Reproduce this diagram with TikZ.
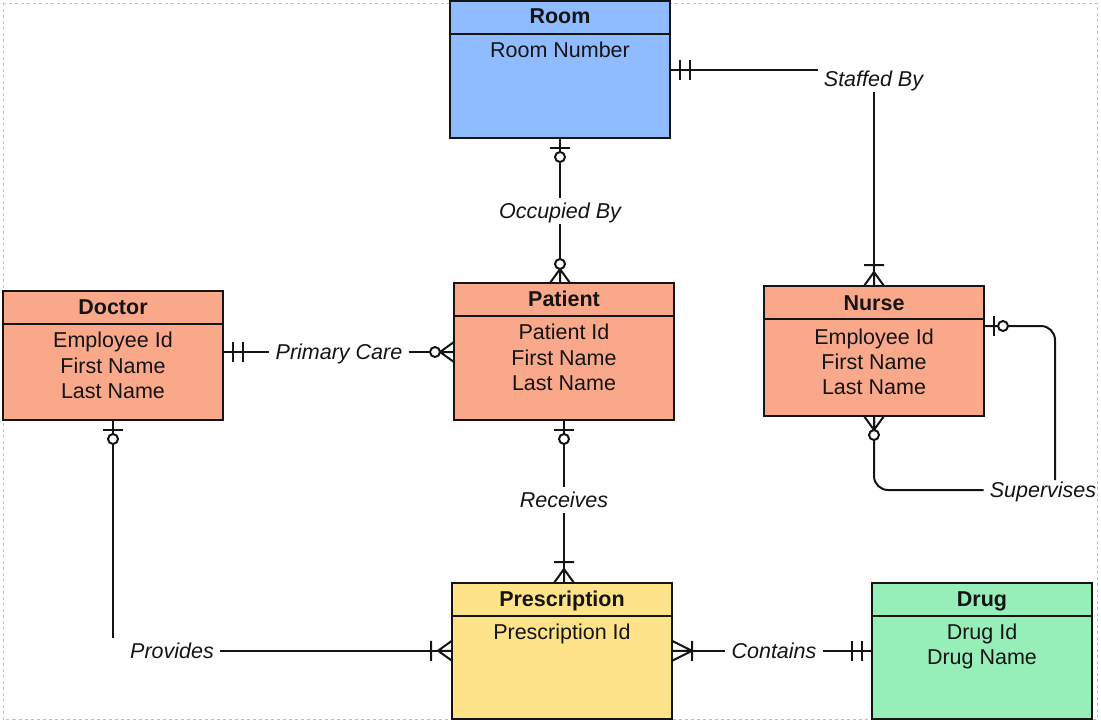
\documentclass[tikz,border=0pt]{standalone}
\usepackage{fontspec}
\setmainfont{Liberation Sans}
\definecolor{inkc}{RGB}{20,20,20}
\definecolor{roomblue}{RGB}{143,187,255}
\definecolor{salmon}{RGB}{250,168,138}
\definecolor{rxyellow}{RGB}{255,227,136}
\definecolor{drugreen}{RGB}{150,239,185}
\definecolor{frame}{RGB}{172,196,230}
\begin{document}
\begin{tikzpicture}[x=1pt,y=1pt,
  entity/.style={draw=inkc, line width=2pt, rectangle, inner sep=0pt, outer sep=0pt, minimum width=220pt},
  txt/.style={text=inkc, font=\fontsize{21.5pt}{25.5pt}\selectfont, inner sep=0pt, text height=15.4pt, text depth=0pt},
  title/.style={txt, font=\fontsize{21.5pt}{25.5pt}\selectfont\bfseries},
  rel/.style={txt, font=\fontsize{21.5pt}{25.5pt}\selectfont\itshape, inner xsep=6pt, inner ysep=5pt},
  conn/.style={draw=inkc, line width=2pt, line join=round},
  divider/.style={draw=inkc, line width=2pt},
  pics/mandone/.style={code={\draw[conn] (10,-10)--(10,10) (20,-10)--(20,10);}},
  pics/zeroone/.style={code={\draw[conn] (10,-10)--(10,10); \draw[conn,fill=white] (19,0) circle (5);}},
  pics/zeromany/.style={code={\draw[conn] (0,-10)--(14,0)--(0,10) (0,0)--(14,0); \draw[conn,fill=white] (19,0) circle (5);}},
  pics/onemany/.style={code={\draw[conn] (0,-10)--(14,0)--(0,10) (0,0)--(14,0) (21,-10)--(21,10);}},
  pics/onemanylong/.style={code={\draw[conn] (0,-10)--(20,0)--(0,10) (0,0)--(20,0) (20,-10)--(20,10);}},
]
\useasboundingbox (0,0) rectangle (1101,-721);
% page frame
\draw[frame, line width=1pt, dash pattern=on 3pt off 3pt] (3,-3) rectangle (1097,-719.5);

% entities
\node[entity, fill=roomblue, minimum height=137pt] (room) at (560,-69.5) {};
\node[entity, fill=salmon, minimum height=129pt] (doctor) at (113,-355.5) {};
\node[entity, fill=salmon, minimum height=137pt] (patient) at (564,-351.5) {};
\node[entity, fill=salmon, minimum height=130pt] (nurse) at (874,-351) {};
\node[entity, fill=rxyellow, minimum height=135.5pt] (prescription) at (562,-650.75) {};
\node[entity, fill=drugreen, minimum height=135.5pt] (drug) at (982,-650.75) {};

% header dividers
\foreach \e in {room,doctor,patient,nurse,prescription,drug}
  \draw[divider] ([yshift=-32.5pt]\e.north west) -- ([yshift=-32.5pt]\e.north east);

% titles
\node[title] (room-t) at ([yshift=-15pt]room.north) {Room};
\node[title] (doctor-t) at ([yshift=-16pt]doctor.north) {Doctor};
\node[title] (patient-t) at ([yshift=-16pt]patient.north) {Patient};
\node[title] (nurse-t) at ([yshift=-17pt]nurse.north) {Nurse};
\node[title] (prescription-t) at ([yshift=-16pt]prescription.north) {Prescription};
\node[title] (drug-t) at ([yshift=-16pt]drug.north) {Drug};

% attributes
\node[txt] (room-a1) at ([yshift=-49pt]room.north) {Room Number};
\node[txt] (doctor-a1) at ([yshift=-49pt]doctor.north) {Employee Id};
\node[txt] (doctor-a2) at ([yshift=-74.5pt]doctor.north) {First Name};
\node[txt] (doctor-a3) at ([yshift=-100pt]doctor.north) {Last Name};
\node[txt] (patient-a1) at ([yshift=-49pt]patient.north) {Patient Id};
\node[txt] (patient-a2) at ([yshift=-75pt]patient.north) {First Name};
\node[txt] (patient-a3) at ([yshift=-100pt]patient.north) {Last Name};
\node[txt] (nurse-a1) at ([yshift=-50.5pt]nurse.north) {Employee Id};
\node[txt] (nurse-a2) at ([yshift=-75.5pt]nurse.north) {First Name};
\node[txt] (nurse-a3) at ([yshift=-100.5pt]nurse.north) {Last Name};
\node[txt] (prescription-a1) at ([yshift=-49pt]prescription.north) {Prescription Id};
\node[txt] (drug-a1) at ([yshift=-49pt]drug.north) {Drug Id};
\node[txt] (drug-a2) at ([yshift=-74pt]drug.north) {Drug Name};

% relationship labels
\node[rel] (occupied) at (560,-211) {Occupied By};
\node[rel] (staffed) at (873.5,-79) {Staffed By};
\node[rel] (primary) at (339,-352) {Primary Care};
\node[rel] (supervises) at (1043,-490) {Supervises};
\node[rel] (receives) at (564,-500) {Receives};
\node[rel] (provides) at (172,-650.75) {Provides};
\node[rel] (contains) at (774,-650.75) {Contains};

% connectors
\draw[conn] (room.south) -- (occupied.north);
\draw[conn] (occupied.south) -- (occupied.south |- patient.north);
\draw[conn] (room.east) -- (room.east -| staffed.west);
\draw[conn] (staffed.south -| nurse.north) -- (nurse.north);
\draw[conn] (doctor.east |- primary.west) -- (primary.west);
\draw[conn] (primary.east) -- (primary.east -| patient.west);
\draw[conn, rounded corners=14pt] ([yshift=25pt]nurse.east) -| ([xshift=12pt,yshift=-3pt]supervises.north);
\draw[conn, rounded corners=14pt] (nurse.south) |- (supervises.west);
\draw[conn] (patient.south) -- (receives.north);
\draw[conn] (receives.south) -- (receives.south |- prescription.north);
\draw[conn] (doctor.south) -- (doctor.south |- provides.north);
\draw[conn] (provides.east) -- (provides.east -| prescription.west);
\draw[conn] (prescription.east) -- (contains.west);
\draw[conn] (contains.east) -- (drug.west);

% cardinality ends
\pic[rotate=-90] at (room.south) {zeroone};
\pic[rotate=90] at (occupied.south |- patient.north) {zeromany};
\pic at (room.east) {mandone};
\pic[rotate=90] at (nurse.north) {onemany};
\pic at (doctor.east |- primary.west) {mandone};
\pic[rotate=180] at (primary.east -| patient.west) {zeromany};
\pic at ([yshift=25pt]nurse.east) {zeroone};
\pic[rotate=-90] at (nurse.south) {zeromany};
\pic[rotate=-90] at (doctor.south) {zeroone};
\pic[rotate=180] at (provides.east -| prescription.west) {onemany};
\pic[rotate=-90] at (patient.south) {zeroone};
\pic[rotate=90] at (receives.south |- prescription.north) {onemany};
\pic at (prescription.east) {onemanylong};
\pic[rotate=180] at (drug.west) {mandone};
\end{tikzpicture}
\end{document}
